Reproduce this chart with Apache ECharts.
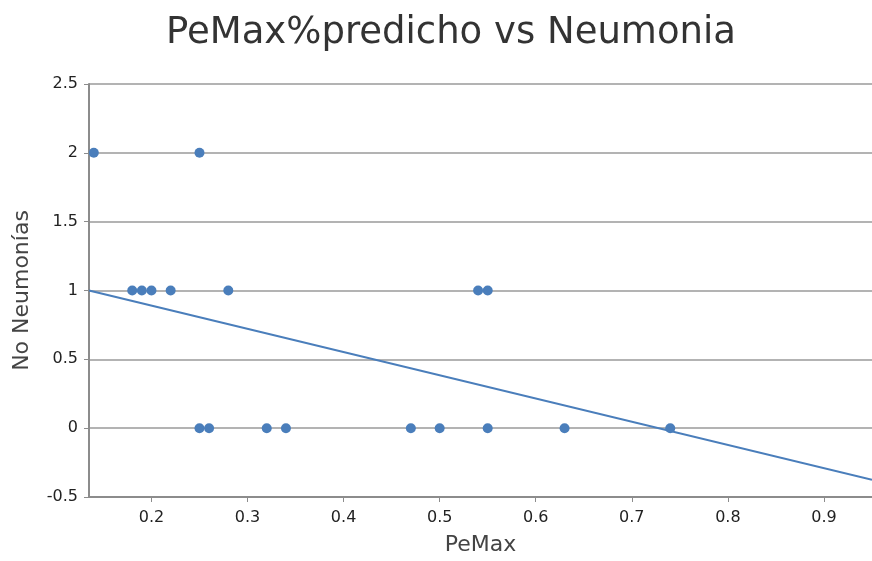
<!DOCTYPE html>
<html>
<head>
<meta charset="utf-8">
<script src="https://cdn.jsdelivr.net/npm/echarts@6/dist/echarts.min.js"></script>
<style>
  html, body { margin: 0; padding: 0; background: #fff; }
  #chart { width: 872px; height: 561px; }
</style>
</head>
<body>
<div id="chart"></div>
<script>
// PeMax values and number of pneumonias
const pemax = [0.14, 0.25, 0.18, 0.19, 0.20, 0.22, 0.28, 0.54, 0.55,
  0.25, 0.26, 0.32, 0.34, 0.47, 0.50, 0.55, 0.63, 0.74]
const neumonias = [2, 2, 1, 1, 1, 1, 1, 1, 1,
  0, 0, 0, 0, 0, 0, 0, 0, 0]

// trend line ends
const trendX = [0.135, 0.95]
const trendY = [1.0, -0.375]

const xTicks = [0.2, 0.3, 0.4, 0.5, 0.6, 0.7, 0.8, 0.9]

const font = 'DejaVu Sans'
const chart = echarts.init(document.getElementById('chart'))

chart.setOption({
  backgroundColor: '#fff',
  animation: false,
  title: {
    text: 'PeMax%predicho vs Neumonia',
    left: 161,
    top: 10,
    textStyle: { fontFamily: font, fontSize: 37, fontWeight: 'normal', color: '#333' },
  },
  grid: { left: 89, right: 0, top: 84, bottom: 60 },
  xAxis: {
    type: 'value',
    min: 0.135,
    max: 0.95,
    name: 'PeMax',
    nameLocation: 'middle',
    nameGap: 37,
    nameTextStyle: { fontFamily: font, fontSize: 22, color: '#444' },
    axisLine: { onZero: false, lineStyle: { color: '#8c8c8c', width: 2 } },
    axisTick: { show: true, length: 5, customValues: xTicks, lineStyle: { color: '#8c8c8c' } },
    axisLabel: {
      fontFamily: font, fontSize: 16, color: '#222', margin: 13,
      customValues: xTicks,
      formatter: v => String(v),
    },
    splitLine: { show: false },
  },
  yAxis: {
    type: 'value',
    min: -0.5,
    max: 2.5,
    interval: 0.5,
    name: 'No Neumonías',
    nameLocation: 'middle',
    nameGap: 56,
    nameTextStyle: { fontFamily: font, fontSize: 22, color: '#444' },
    axisLine: { show: true, lineStyle: { color: '#8c8c8c', width: 2 } },
    axisTick: { show: true, length: 5, lineStyle: { color: '#8c8c8c' } },
    axisLabel: { fontFamily: font, fontSize: 16, color: '#222', margin: 11 },
    splitLine: { lineStyle: { color: '#9a9a9a', width: 1.5 } },
  },
  series: [
    {
      type: 'line',
      data: trendX.map((x, i) => [x, trendY[i]]),
      symbol: 'none',
      lineStyle: { color: '#4a7ebb', width: 2 },
      z: 1,
    },
    {
      type: 'scatter',
      data: pemax.map((x, i) => [x, neumonias[i]]),
      symbolSize: 10,
      itemStyle: { color: '#4a7ebb', opacity: 1 },
      z: 3,
    },
  ],
})
</script>
</body>
</html>
